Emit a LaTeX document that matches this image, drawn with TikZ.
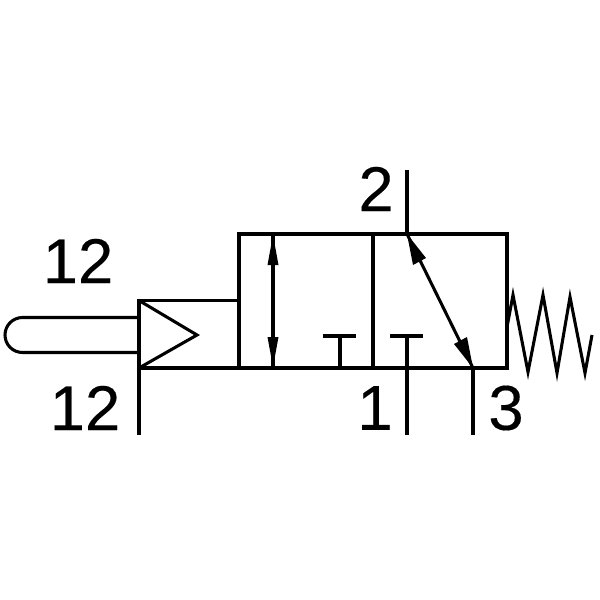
\documentclass[tikz,border=0pt]{standalone}
\usepackage{fontspec}
\setmainfont{Liberation Sans}[FakeBold=0.25]
\tikzset{
 ln/.style={line width=2.3pt,black,line cap=butt,line join=miter},
 lbl/.style={font=\fontsize{47.5}{48}\selectfont,inner sep=0pt,anchor=center},
}
\begin{document}
\begin{tikzpicture}[x=0.75pt,y=-0.75pt]
\useasboundingbox (0,0) rectangle (600,600);
\fill[white] (0,0) rectangle (600,600);
\node[lbl] (a) at (78,261) {12};
\node[lbl] (b) at (85,408) {12};
\node[lbl] (c) at (376,189) {2};
\node[lbl] (d) at (375,408) {1};
\node[lbl] (e) at (506,408) {3};
\draw[ln] (239,234) rectangle (507,368);
\draw[ln] (373,234) -- (373,368);
\draw[ln] (239,300.5) -- (139,300.5) -- (139,368) -- (239,368);
\draw[ln] (139,300.5) -- (197,335) -- (139,368);
\draw[ln] (139,317.5) -- (22.5,317.5) arc[start angle=270,end angle=90,radius=17.5] -- (139,352.5);
\draw[ln] (139,368) -- (139,435);
\draw[ln] (407,170) -- (407,234);
\draw[ln] (407,368) -- (407,435);
\draw[ln] (473,368) -- (473,435);
\draw[ln] (340,368) -- (340,336);
\draw[ln] (323,336) -- (356,336);
\draw[ln] (390,336) -- (423,336);
\draw[ln] (407,336) -- (407,368);
\draw[ln] (273,234) -- (273,368);
\fill (273,235) -- (267.5,265) -- (278.5,265) -- cycle;
\fill (273,367) -- (267.5,337) -- (278.5,337) -- cycle;
\draw[ln] (407,234) -- (473,368);
\fill (407,234) -- (413,265) -- (426,258) -- cycle;
\fill (473,368) -- (454,344) -- (467,337) -- cycle;
\draw[ln] (507,327) -- (513,295) -- (528,372) -- (543,295) -- (557,373) -- (570,297) -- (585,373) -- (592,335);
\end{tikzpicture}
\end{document}
